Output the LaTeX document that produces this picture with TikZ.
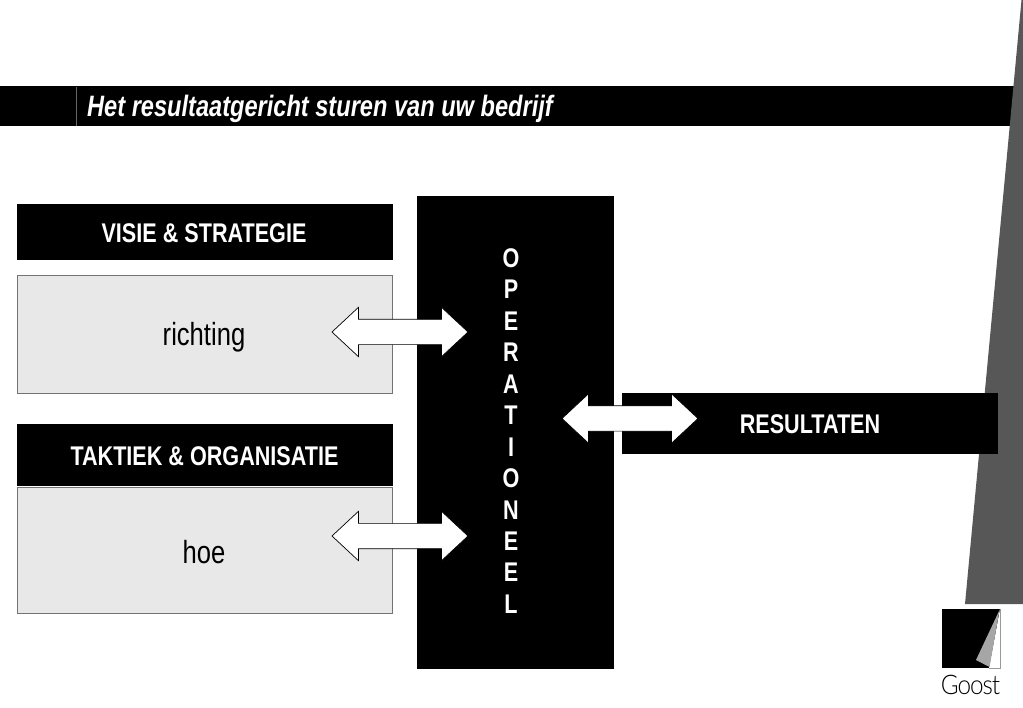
\documentclass[tikz,border=0pt]{standalone}
\usepackage{fontspec}
\setmainfont{Liberation Sans}[FakeStretch=0.8]
\newfontfamily\logofont{Lato Light}[FakeStretch=0.9,LetterSpace=-4]
\usetikzlibrary{shapes.arrows}
\tikzset{
  blackbox/.style={fill=black,inner sep=0pt},
  blacklabel/.style={text=white,inner sep=0pt,font=\bfseries\fontsize{27}{32}\selectfont},
  greybox/.style={draw=black!55,line width=0.8pt,fill=black!9,inner sep=0pt},
  greylabel/.style={font=\fontsize{32}{36}\selectfont},
  twoway/.style={shape=double arrow,draw=black,line width=0.7pt,fill=white,inner xsep=0pt,inner ysep=12.3pt,
    double arrow head extend=12pt,double arrow tip angle=86,minimum height=136pt},
}
\begin{document}
\begin{tikzpicture}[x=1pt,y=-1pt]
\useasboundingbox (0,0) rectangle (1023,708);
%title bar with the slanted wedge over it
\fill[black] (0,86) rectangle (1023,126);
\draw[black!60,line width=0.6pt] (76,87) -- (76,126);
\node[anchor=west,text=white,inner sep=0pt,font=\bfseries\itshape\fontsize{29.5}{34}\selectfont] (title) at (87,108.5) {Het resultaatgericht sturen van uw bedrijf};
\fill[black!66] (1021.5,0) -- (1023,0) -- (1023,604) -- (965,604) -- cycle;
%left column
\node[blackbox,minimum width=376pt,minimum height=56pt] (visie) at (204.5,232) {};
\node[blacklabel] (visietext) at (204,233) {VISIE \& STRATEGIE};
\node[greybox,minimum width=375pt,minimum height=118pt] (richting) at (204.5,334) {};
\node[greylabel] (richtingtext) at (204,337.5) {richting};
\node[blackbox,minimum width=376pt,minimum height=62pt] (taktiek) at (204.5,455) {};
\node[blacklabel] (taktiektext) at (204.5,456) {TAKTIEK \& ORGANISATIE};
\node[greybox,minimum width=375pt,minimum height=126pt] (hoe) at (204.5,550) {};
\node[greylabel] (hoetext) at (204,552) {hoe};
%middle column and result box
\node[blackbox,minimum width=197pt,minimum height=473pt] (operationeel) at (515.5,432.5) {};
\node[text=white,align=center,inner sep=0pt,font=\bfseries\fontsize{27}{31.45}\selectfont] (letters) at (511,431) {O\\P\\E\\R\\A\\T\\I\\O\\N\\E\\E\\L};
\node[blackbox,minimum width=376pt,minimum height=61pt] (resultaten) at (810,423.5) {};
\node[blacklabel] (resultatentext) at (810,424) {RESULTATEN};
%arrows
\node[twoway] (pijla) at (400,332) {};
\node[twoway] (pijlb) at (400,536) {};
\node[twoway] (pijlc) at (630,418.5) {};
%logo
\fill[black] (942,609) rectangle (1000,668);
\fill[white] (1000,609) -- (1000,668) -- (989,668) -- cycle;
\fill[black!35] (999.5,610) -- (976,660) -- (989.5,667) -- cycle;
\draw[black!40,line width=0.4pt] (1000,609) -- (1000,668) -- (989,668);
\node[inner sep=0pt,font=\logofont\fontsize{27}{30}\selectfont] (goost) at (970.5,685) {Goost};
\end{tikzpicture}
\end{document}
